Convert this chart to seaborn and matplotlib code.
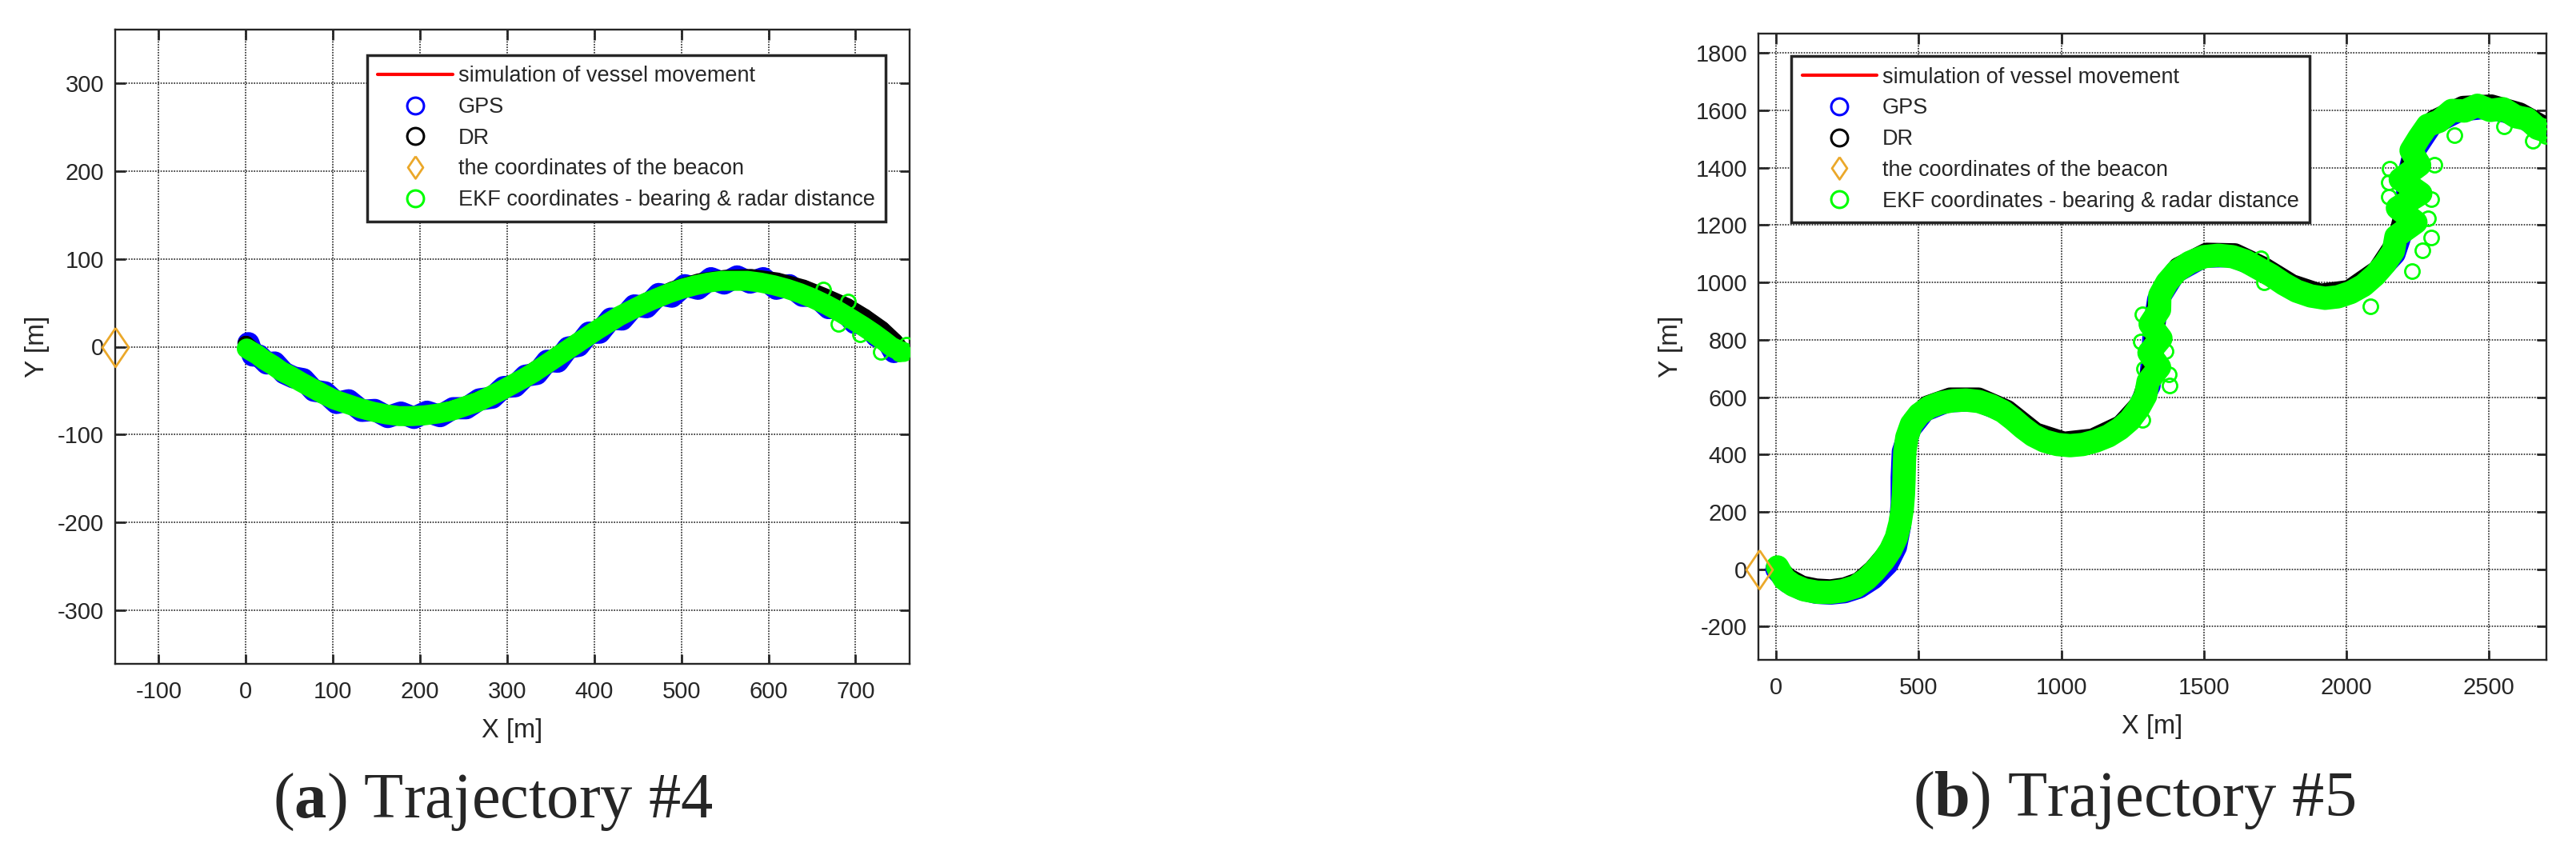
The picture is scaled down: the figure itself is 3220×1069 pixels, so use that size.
import matplotlib
matplotlib.use('Agg')
import matplotlib.pyplot as plt
from matplotlib.lines import Line2D
import seaborn as sns

# ---------------- data ----------------
# Trajectory #4 (left panel)
beacon4 = (-150, 0)
sim4_x = [0, 5, 12, 20, 30, 40, 50, 62, 75, 88, 100, 115, 130, 145, 160, 175, 190, 205, 220, 235,
          250, 265, 280, 292, 305, 318, 330, 342, 354, 366, 378, 390, 402, 415, 428, 442, 456, 470, 485, 500,
          515, 530, 545, 560, 575, 590, 605, 620, 635, 650, 665, 680, 695, 708, 720, 731, 740, 748, 755]
sim4_y = [0, -3, -8, -13, -20, -26, -32, -39, -46, -53, -58, -64, -69, -73, -76, -78, -78, -77, -75, -72,
          -67, -62, -55, -49, -42, -35, -27, -20, -12, -4, 4, 11, 19, 27, 35, 43, 50, 57, 63, 69,
          73, 76, 78, 78, 77, 75, 72, 68, 63, 56, 49, 41, 32, 24, 16, 9, 3, -2, -7]
gps4_x = [3, 8, 15, 24, 33, 44, 55, 66, 78, 91, 104, 118, 133, 148, 163, 178, 193, 208, 223, 238,
          253, 268, 283, 296, 309, 321, 334, 346, 358, 370, 382, 394, 406, 419, 432, 446, 460, 474, 489, 504,
          519, 534, 549, 564, 579, 594, 609, 624, 639, 654, 669, 684, 699, 712, 724, 735, 744]
gps4_y = [4, -10, -10, -19, -18, -30, -35, -37, -50, -52, -64, -61, -73, -72, -80, -75, -81, -74, -79, -70,
          -70, -60, -58, -46, -45, -33, -31, -16, -17, -1, 1, 16, 16, 32, 31, 47, 45, 60, 57, 70,
          66, 78, 72, 80, 73, 78, 66, 70, 58, 58, 44, 45, 27, 27, 12, 10, -6]
dr4_x = [0, 10, 25, 45, 70, 100, 130, 160, 190, 220, 250, 280, 310, 340, 370, 400, 430, 460, 490, 520,
         550, 580, 610, 640, 665, 690, 710, 730, 745, 752]
dr4_y = [3, -6, -16, -29, -44, -58, -69, -76, -78, -75, -67, -55, -40, -21, -1, 18, 36, 52, 65, 74,
         78, 79, 75, 67, 57, 46, 34, 20, 6, -3]
ekf4_x = [1, 6, 13, 21, 31, 41, 51, 63, 76, 89, 101, 116, 131, 146, 161, 176, 191, 206, 221, 236,
          251, 266, 281, 293, 306, 319, 331, 343, 355, 367, 379, 391, 403, 416, 429, 443, 457, 471, 486, 501,
          516, 531, 546, 561, 576, 591, 606, 621, 636, 651, 666, 681, 696, 709, 721, 732, 741, 749, 755]
ekf4_y = [-2, -5, -9, -15, -21, -28, -33, -40, -47, -54, -60, -65, -70, -74, -77, -79, -79, -78, -76, -73,
          -68, -63, -56, -50, -43, -36, -29, -21, -13, -5, 3, 11, 19, 27, 35, 42, 49, 55, 61, 66,
          70, 73, 75, 75, 75, 73, 70, 66, 61, 55, 48, 40, 31, 23, 15, 7, 0, -4, -6]
ekf4_out_x = [680, 705, 729, 750, 758, 663, 691]
ekf4_out_y = [26, 14, -6, -8, 2, 65, 51]

# Trajectory #5 (right panel)
beacon5 = (-60, 0)
sim5_x = [0, 30, 60, 100, 145, 190, 235, 280, 320, 350, 380, 405, 425, 438,
          446, 450, 452, 452, 455, 462, 478,
          505, 540, 580, 625, 670, 715, 760, 800, 835, 870, 905, 945, 990, 1035, 1080, 1125, 1170, 1210, 1245, 1275, 1300,
          1315, 1322, 1326, 1328, 1330, 1335,
          1350, 1375, 1410, 1455, 1505, 1555, 1605, 1650, 1695, 1740, 1785, 1830, 1880, 1930, 1975, 2020, 2065, 2105, 2140, 2170,
          2190, 2205, 2213, 2218, 2222, 2228, 2240,
          2260, 2290, 2330, 2375, 2420, 2465, 2510, 2555, 2600, 2640, 2675, 2700]
sim5_y = [0, -30, -52, -68, -76, -78, -72, -58, -30, 0, 35, 72, 115, 165,
          215, 265, 315, 365, 415, 465, 510,
          545, 570, 585, 593, 595, 590, 575, 555, 528, 498, 472, 452, 440, 436, 440, 452, 470, 495, 525, 565, 610,
          660, 710, 760, 810, 860, 910,
          960, 1005, 1045, 1075, 1095, 1100, 1095, 1080, 1055, 1030, 1000, 975, 958, 950, 955, 970, 995, 1030, 1070, 1115,
          1165, 1215, 1265, 1315, 1365, 1415, 1465,
          1510, 1545, 1575, 1598, 1610, 1615, 1613, 1605, 1590, 1570, 1550, 1535]
gps5_x = [0, 40, 90, 140, 190, 240, 290, 340, 390, 420, 434, 440, 440, 444, 470, 520, 600, 700, 800, 900,
          1000, 1100, 1200, 1270, 1310, 1320, 1325, 1340, 1400, 1500, 1600, 1700, 1800, 1900, 2000, 2100, 2170, 2200, 2212, 2222,
          2240, 2300, 2400, 2500, 2600, 2690]
gps5_y = [0, -45, -70, -82, -85, -80, -64, -32, 18, 78, 150, 230, 320, 410, 490, 553, 585, 590, 550, 472,
          434, 443, 487, 560, 640, 740, 840, 940, 1035, 1090, 1092, 1050, 990, 950, 960, 1025, 1100, 1190, 1290, 1390,
          1460, 1550, 1600, 1610, 1585, 1535]
dr5_x = [0, 40, 90, 140, 190, 240, 290, 340, 390, 425, 445, 452, 456, 460, 480, 530, 610, 710, 810, 910,
         1010, 1110, 1210, 1280, 1320, 1332, 1338, 1355, 1410, 1510, 1610, 1710, 1810, 1910, 2010, 2110, 2180, 2212, 2226, 2236,
         2255, 2310, 2410, 2510, 2610, 2705]
dr5_y = [8, -30, -57, -67, -70, -63, -45, -2, 56, 123, 208, 323, 428, 458, 521, 571, 599, 599, 556, 477,
         445, 456, 503, 580, 708, 888, 928, 978, 1053, 1104, 1102, 1055, 994, 961, 974, 1043, 1148, 1278, 1408, 1458,
         1508, 1568, 1616, 1621, 1593, 1540]
ekf5_x = [4, 28, 58, 98, 143, 188, 233, 278, 317, 346, 376, 401, 421, 434,
          442, 446, 448, 449, 451, 458, 474,
          501, 536, 576, 621, 666, 711, 756, 796, 831, 866, 901, 941, 986, 1031, 1076, 1121, 1166, 1206, 1241, 1271, 1296,
          1305, 1345, 1308, 1350, 1312, 1345,
          1346, 1371, 1406, 1451, 1501, 1551, 1601, 1646, 1691, 1736, 1781, 1826, 1876, 1926, 1971, 2016, 2061, 2101, 2136, 2166,
          2175, 2245, 2180, 2262, 2190, 2258, 2228,
          2256, 2286, 2326, 2371, 2416, 2461, 2506, 2551, 2596, 2636, 2671, 2696]
ekf5_y = [8, -34, -55, -72, -80, -81, -75, -61, -34, -5, 30, 67, 110, 160,
          210, 260, 310, 360, 410, 460, 505,
          540, 565, 580, 588, 590, 585, 570, 550, 523, 493, 467, 447, 435, 431, 435, 447, 465, 490, 520, 560, 605,
          655, 705, 755, 805, 855, 905,
          955, 1000, 1040, 1070, 1090, 1095, 1090, 1075, 1050, 1025, 995, 970, 953, 945, 950, 965, 990, 1025, 1065, 1110,
          1160, 1210, 1260, 1310, 1360, 1410, 1460,
          1505, 1548, 1562, 1600, 1598, 1618, 1600, 1606, 1578, 1570, 1538, 1530]
ekf5_out_x = [1280, 1285, 1377, 1380, 1285, 2309, 2150, 2152, 2288, 2299, 2267, 2085, 2380, 2555, 2655,
              1711, 1810, 2700, 1440, 1700, 2230, 1365, 1290, 2300, 2150]
ekf5_out_y = [795, 890, 680, 640, 520, 1410, 1350, 1398, 1225, 1158, 1111, 918, 1515, 1545, 1495,
              1000, 975, 1510, 1070, 1085, 1040, 760, 700, 1290, 1300]

labels = ['simulation of vessel movement', 'GPS', 'DR', 'the coordinates of the beacon',
          'EKF coordinates - bearing & radar distance']

RED, BLUE, BLACK, ORANGE, GREEN = '#ff0000', '#0000ff', '#000000', '#eba82a', '#00ff00'
DARK = '#262626'
DIAMOND = [(0, 1), (0.68, 0), (0, -1), (-0.68, 0), (0, 1)]

sns.set_style('white')
plt.rcParams['font.family'] = ['Liberation Sans', 'DejaVu Sans']
plt.rcParams['axes.unicode_minus'] = False
plt.rcParams['mathtext.fontset'] = 'custom'
plt.rcParams['mathtext.rm'] = 'Liberation Serif'
plt.rcParams['mathtext.bf'] = 'Liberation Serif:bold'

fig = plt.figure(figsize=(32.2, 10.69), dpi=100)


def band(ax, x, y, color, lw, ms, z):
    # dense track of fixes -> thick band with open rings
    sns.lineplot(x=x, y=y, sort=False, estimator=None, ax=ax, color=color, lw=lw,
                 solid_capstyle='round', solid_joinstyle='round', zorder=z)
    sns.lineplot(x=x, y=y, sort=False, estimator=None, ax=ax, color=color, ls='none',
                 marker='o', ms=ms, mfc='none', mec=color, mew=2, zorder=z)


def rings(ax, x, y, color, ms, z):
    sns.lineplot(x=x, y=y, sort=False, estimator=None, ax=ax, color=color, ls='none',
                 marker='o', ms=ms, mfc='none', mec=color, mew=2, zorder=z)


def panel(rect, sx, sy, gx, gy, dx, dy, ex, ey, ox, oy, beacon, lw, gps_dlw, ms,
          xlim, ylim, xticks, yticks, leg_loc, leg_anchor, ylabelpad):
    ax = fig.add_axes(rect)
    sns.lineplot(x=sx, y=sy, sort=False, estimator=None, ax=ax, color=RED, lw=2, zorder=2)
    band(ax, gx, gy, BLUE, lw + gps_dlw, ms, 3)
    band(ax, dx, dy, BLACK, lw - 3, ms, 4)
    band(ax, ex, ey, GREEN, lw, ms, 5)
    rings(ax, ox, oy, GREEN, ms, 5)
    sns.lineplot(x=[beacon[0]], y=[beacon[1]], ax=ax, color=ORANGE, ls='none', marker=DIAMOND,
                 ms=35, mfc='none', mec=ORANGE, mew=2, zorder=6, clip_on=False)

    ax.set_xlim(*xlim)
    ax.set_ylim(*ylim)
    ax.set_xticks(xticks)
    ax.set_yticks(yticks)
    ax.grid(True, ls=(0, (1, 1)), lw=1.2, color=DARK)
    ax.set_axisbelow(True)
    for s in ax.spines.values():
        s.set_visible(True)
        s.set_color(DARK)
        s.set_linewidth(1.7)
    ax.tick_params(direction='in', length=9, width=2, colors=DARK, labelsize=21,
                   top=True, right=True, bottom=True, left=True)
    ax.tick_params(axis='x', pad=15)
    ax.tick_params(axis='y', pad=10)
    ax.set_xlabel('X [m]', fontsize=23.5, color=DARK, labelpad=14)
    ax.set_ylabel('Y [m]', fontsize=24, color=DARK, labelpad=ylabelpad)

    handles = [
        Line2D([], [], color=RED, lw=3),
        Line2D([], [], ls='none', marker='o', ms=15, mfc='none', mec=BLUE, mew=2.2),
        Line2D([], [], ls='none', marker='o', ms=15, mfc='none', mec=BLACK, mew=2.2),
        Line2D([], [], ls='none', marker=DIAMOND, ms=20, mfc='none', mec=ORANGE, mew=2),
        Line2D([], [], ls='none', marker='o', ms=15, mfc='none', mec=GREEN, mew=2.2),
    ]
    leg = ax.legend(handles, labels, loc=leg_loc, bbox_to_anchor=leg_anchor, fontsize=19.5,
                    frameon=True, fancybox=False, edgecolor=DARK, framealpha=1,
                    borderaxespad=0, handlelength=3.45, handletextpad=0.26,
                    labelspacing=0.47, borderpad=0.5)
    leg.get_frame().set_linewidth(2.5)
    leg.set_zorder(10)
    return ax


panel([144 / 3220, 1 - 830 / 1069, 993 / 3220, 793 / 1069],
      sim4_x, sim4_y, gps4_x, gps4_y, dr4_x, dr4_y, ekf4_x, ekf4_y, ekf4_out_x, ekf4_out_y,
      beacon4, 18, 2, 13, (-150, 762), (-361, 361), range(-100, 701, 100), range(-300, 301, 100),
      'upper right', (0.970, 0.960), 7)

panel([2198 / 3220, 1 - 825 / 1069, 985 / 3220, 783 / 1069],
      sim5_x, sim5_y, gps5_x, gps5_y, dr5_x, dr5_y, ekf5_x, ekf5_y, ekf5_out_x, ekf5_out_y,
      beacon5, 21, -1, 13, (-63, 2703), (-316, 1868), range(0, 2501, 500), range(-200, 1801, 200),
      'upper left', (0.0416, 0.964), 11)

fig.text(616 / 3220, 1 - 1022 / 1069, r'($\mathbf{a}$) Trajectory #4', fontsize=58,
         family='Liberation Serif', ha='center', va='baseline')
fig.text(2668 / 3220, 1 - 1020 / 1069, r'($\mathbf{b}$) Trajectory #5', fontsize=58,
         family='Liberation Serif', ha='center', va='baseline')

fig.savefig('out.png', dpi=100)
